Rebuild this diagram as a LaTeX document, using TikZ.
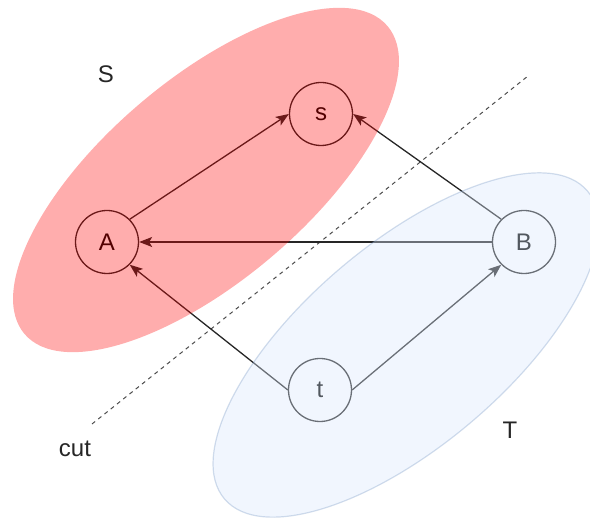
\documentclass[tikz,border=0pt]{standalone}
\usepackage{fontspec}
\setmainfont{Liberation Sans}
\usetikzlibrary{arrows.meta}
\begin{document}
\begin{tikzpicture}[x=1pt,y=1pt,
  vertex/.style={circle, draw=black!85, line width=1.3pt, minimum size=63pt, inner sep=0pt, font=\fontsize{24}{28}\selectfont},
  edge/.style={draw=black!85, line width=1.3pt, -{Stealth[length=13pt,width=10pt,inset=3pt]}},
  lbl/.style={anchor=base, inner sep=0pt, font=\fontsize{24}{28}\selectfont, text=black!85},
  cutline/.style={draw=black!70, line width=1pt, dash pattern=on 4pt off 4pt},
  setS/.style={fill=red, fill opacity=0.32, draw=none},
  setT/.style={fill={rgb,255:red,218;green,232;blue,252}, fill opacity=0.38, draw={rgb,255:red,108;green,142;blue,191}, draw opacity=0.3, line width=1.2pt}]
\useasboundingbox (0,0) rectangle (590,519);
% cut line
\coordinate (c1) at (92,95);
\coordinate (c2) at (528,443);
\draw[cutline] (c1) -- (c2);
% vertices
\node[vertex] (s) at (321,405) {s};
\node[vertex] (A) at (107,277) {A};
\node[vertex] (B) at (524,277) {B};
\node[vertex] (t) at (320,129) {t};
% edges
\draw[edge] (A.north east) -- (s.west);
\draw[edge] (B.north west) -- (s.east);
\draw[edge] (B.west) -- (A.east);
\draw[edge] (t.west) -- (A.south east);
\draw[edge] (t.east) -- (B.south west);
% labels
\node[lbl] (lS) at (106,436) {S};
\node[lbl] (lcut) at (75,62) {cut};
\node[lbl] (lT) at (510,80) {T};
% set overlays
\path[setS, rotate around={40.3:(206,339)}] (206,339) ellipse [x radius=238, y radius=101];
\path[setT, rotate around={40.3:(406,174)}] (406,174) ellipse [x radius=238, y radius=101];
\end{tikzpicture}
\end{document}
